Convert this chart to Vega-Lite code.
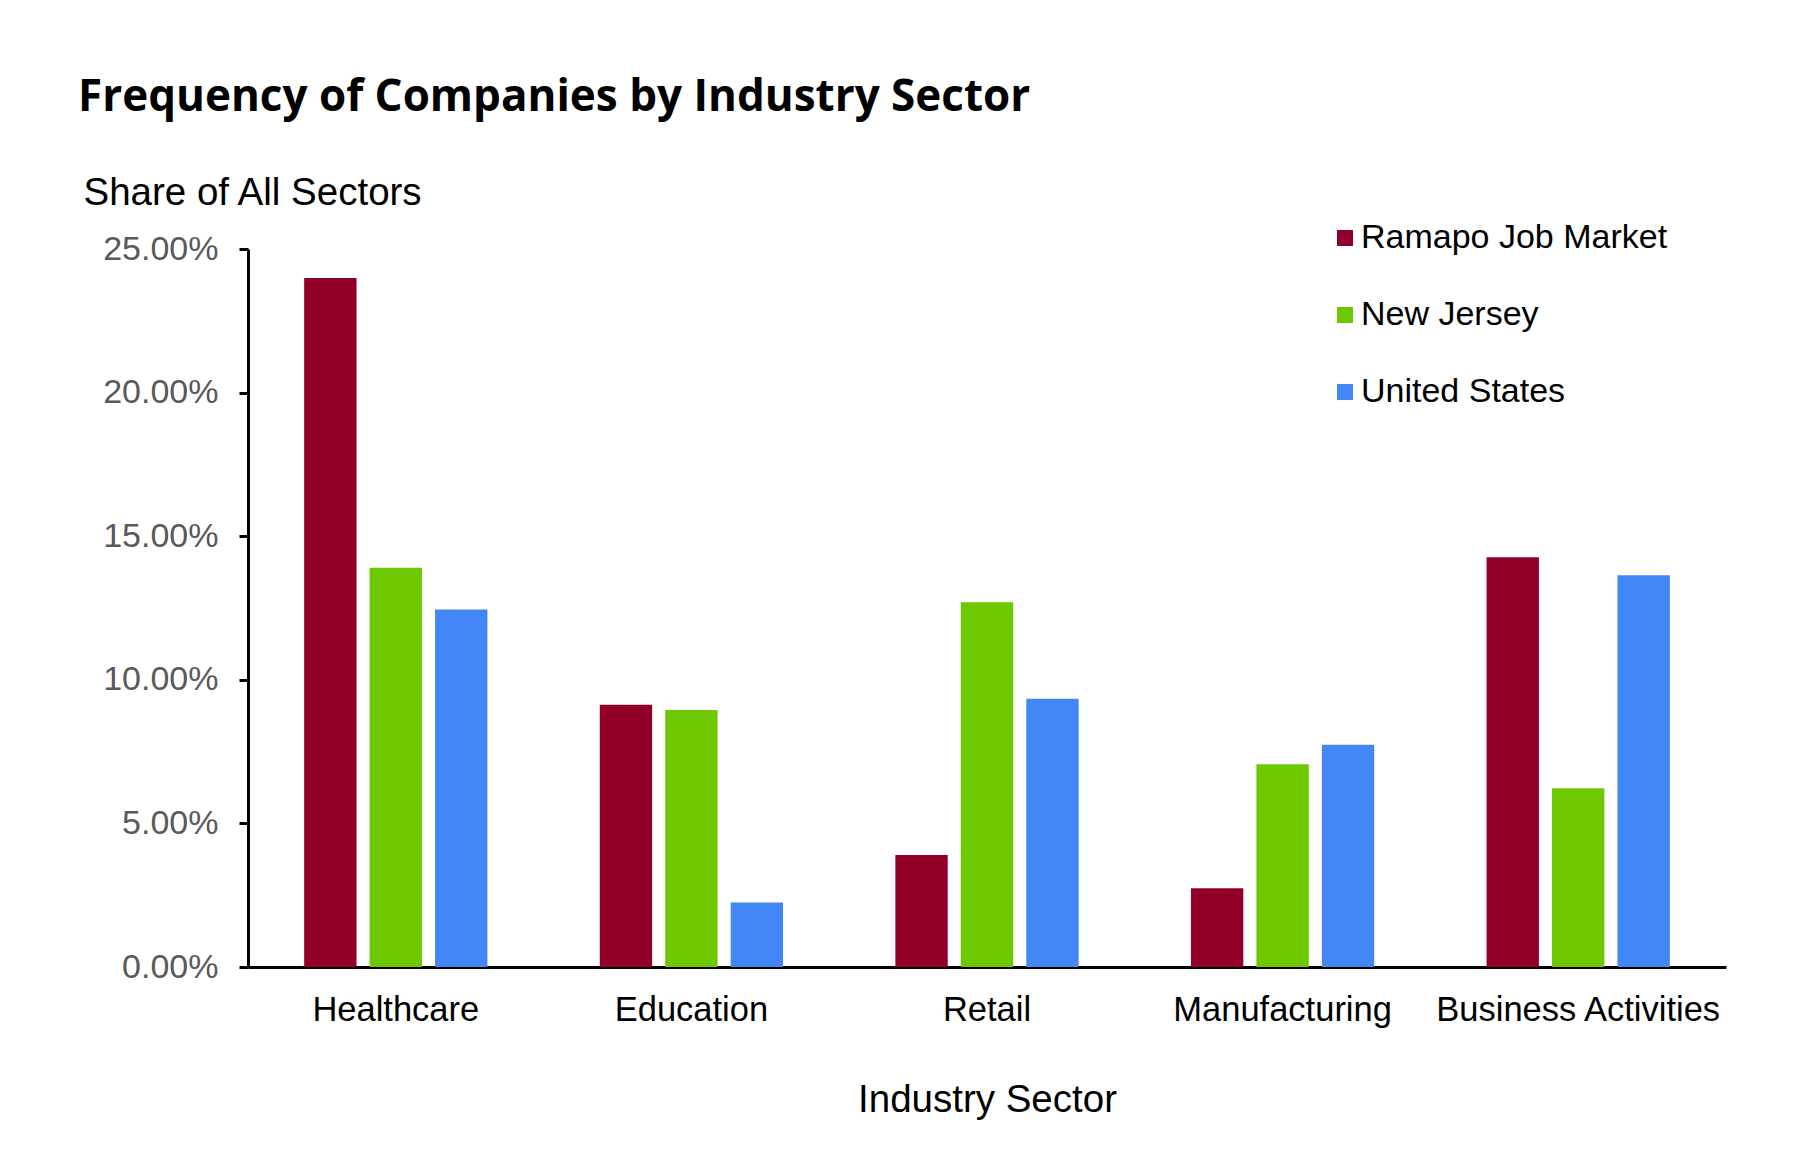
{
  "$schema": "https://vega.github.io/schema/vega-lite/v6.json",
  "width": 1478,
  "height": 718,
  "autosize": {"type": "none"},
  "padding": {"left": 248, "top": 249, "right": 78, "bottom": 209},
  "background": "white",
  "title": {
    "text": "Frequency of Companies by Industry Sector",
    "anchor": "start",
    "frame": "group",
    "font": "Open Sans",
    "fontWeight": "bold",
    "fontSize": 44,
    "color": "#000000",
    "baseline": "alphabetic",
    "dx": -170,
    "offset": 18
  },
  "data": {
    "values": [
      {"sector": "Healthcare", "region": "Ramapo Job Market", "share": 0.2399},
      {"sector": "Healthcare", "region": "New Jersey", "share": 0.139},
      {"sector": "Healthcare", "region": "United States", "share": 0.1245},
      {"sector": "Education", "region": "Ramapo Job Market", "share": 0.0913},
      {"sector": "Education", "region": "New Jersey", "share": 0.0895},
      {"sector": "Education", "region": "United States", "share": 0.0225},
      {"sector": "Retail", "region": "Ramapo Job Market", "share": 0.039},
      {"sector": "Retail", "region": "New Jersey", "share": 0.127},
      {"sector": "Retail", "region": "United States", "share": 0.0934},
      {"sector": "Manufacturing", "region": "Ramapo Job Market", "share": 0.0274},
      {"sector": "Manufacturing", "region": "New Jersey", "share": 0.0706},
      {"sector": "Manufacturing", "region": "United States", "share": 0.0774},
      {"sector": "Business Activities", "region": "Ramapo Job Market", "share": 0.1427},
      {"sector": "Business Activities", "region": "New Jersey", "share": 0.0622},
      {"sector": "Business Activities", "region": "United States", "share": 0.1364}
    ]
  },
  "mark": {"type": "bar"},
  "encoding": {
    "x": {
      "field": "sector",
      "type": "nominal",
      "sort": ["Healthcare", "Education", "Retail", "Manufacturing", "Business Activities"],
      "scale": {"paddingInner": 0.38, "paddingOuter": 0.19},
      "axis": {
        "title": "Industry Sector",
        "labelAngle": 0,
        "labelFont": "Liberation Sans",
        "labelFontSize": 34.5,
        "labelColor": "#000000",
        "labelPadding": 26,
        "labelLimit": 0,
        "ticks": false,
        "tickSize": 0,
        "domainColor": "#000000",
        "domainWidth": 3,
        "titleFont": "Liberation Sans",
        "titleFontSize": 38.5,
        "titleFontWeight": "normal",
        "titleColor": "#000000",
        "titlePadding": 55
      }
    },
    "xOffset": {
      "field": "region",
      "type": "nominal",
      "sort": ["Ramapo Job Market", "New Jersey", "United States"],
      "scale": {"paddingInner": 0.2, "paddingOuter": 0}
    },
    "y": {
      "field": "share",
      "type": "quantitative",
      "scale": {"domain": [0, 0.25], "nice": false, "zero": true},
      "axis": {
        "title": "Share of All Sectors",
        "values": [0, 0.05, 0.1, 0.15, 0.2, 0.25],
        "format": ".2%",
        "grid": false,
        "labelFont": "Liberation Sans",
        "labelFontSize": 34,
        "labelColor": "#595959",
        "labelPadding": 21,
        "tickSize": 9,
        "tickWidth": 3,
        "tickColor": "#000000",
        "domainColor": "#000000",
        "domainWidth": 3,
        "titleFont": "Liberation Sans",
        "titleFontSize": 38.5,
        "titleFontWeight": "normal",
        "titleColor": "#000000",
        "titleAngle": 0,
        "titleAlign": "left",
        "titleBaseline": "alphabetic",
        "titleX": -165,
        "titleY": -45
      }
    },
    "color": {
      "field": "region",
      "type": "nominal",
      "sort": ["Ramapo Job Market", "New Jersey", "United States"],
      "scale": {
        "domain": ["Ramapo Job Market", "New Jersey", "United States"],
        "range": ["#92002A", "#6DC800", "#4287F5"]
      },
      "legend": {
        "title": null,
        "orient": "none",
        "legendX": 1080,
        "legendY": -28,
        "padding": 0,
        "symbolType": "square",
        "symbolSize": 256,
        "symbolStrokeWidth": 0,
        "labelFont": "Liberation Sans",
        "labelFontSize": 34,
        "labelColor": "#000000",
        "labelOffset": -1,
        "rowPadding": 43,
        "labelLimit": 0
      }
    }
  },
  "config": {
    "view": {"stroke": null}
  }
}
